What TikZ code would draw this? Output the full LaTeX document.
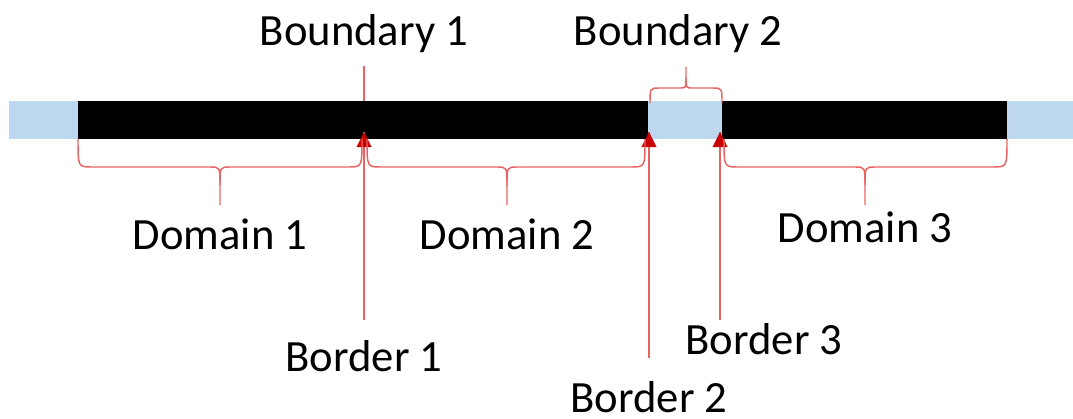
\documentclass[tikz,border=0pt]{standalone}
\usepackage{fontspec}
\setmainfont{Carlito}
\definecolor{lblue}{RGB}{189,215,238}
\definecolor{lred}{RGB}{232,100,100}
\definecolor{dred}{RGB}{200,0,0}
\begin{document}
\begin{tikzpicture}[x=0.75pt,y=-0.75pt,
  lbl/.style={font=\fontsize{33.5}{38}\selectfont, anchor=base, inner sep=0pt},
  redline/.style={draw=lred, line width=1.1pt},
  brace/.style={draw=lred, line width=1.1pt, line join=round},
  head/.style={fill=dred}]
\useasboundingbox (0,0) rectangle (1073,418);
% bar
\fill[lblue] (9,101) rectangle (1073,139);
\fill[black] (78,101) rectangle (648,139);
\fill[black] (722,101) rectangle (1007,139);
% labels
\node[lbl] (bd1) at (364,45) {Boundary 1};
\node[lbl] (bd2) at (678,45) {Boundary 2};
\node[lbl] (dm1) at (220,249) {Domain 1};
\node[lbl] (dm2) at (507,249) {Domain 2};
\node[lbl] (dm3) at (865,242) {Domain 3};
\node[lbl] (br1) at (364,371) {Border 1};
\node[lbl] (br2) at (649,412) {Border 2};
\node[lbl] (br3) at (764,354) {Border 3};
% points
\coordinate (p1) at (364,132);
\coordinate (p2) at (649,132);
\coordinate (p3) at (720,132);
\coordinate (e1) at (364,320);
\coordinate (e2) at (649,358);
\coordinate (e3) at (720,320);
\coordinate (bt) at (364,66);
\coordinate (bb) at (364,101);
% boundary 1 line
\draw[redline] (bt) -- (bb);
% border lines and arrowheads
\draw[redline] (e1) -- (p1);
\draw[redline] (e2) -- (p2);
\draw[redline] (e3) -- (p3);
\fill[head] (p1) -- ++(-7.5,15) -- ++(15,0) -- cycle;
\fill[head] (p2) -- ++(-7.5,15) -- ++(15,0) -- cycle;
\fill[head] (p3) -- ++(-7.5,15) -- ++(15,0) -- cycle;
% domain braces
\draw[brace] (78,139) .. controls (78,167) and (78,167) .. (92,167)
  -- (210,167) .. controls (220,167) and (220,167) .. (220,185) -- (220,205);
\draw[brace] (220,185) .. controls (220,167) and (220,167) .. (230,167)
  -- (348,167) .. controls (362,167) and (362,167) .. (362,139);
\draw[brace] (367,139) .. controls (367,167) and (367,167) .. (381,167)
  -- (497,167) .. controls (507,167) and (507,167) .. (507,185) -- (507,205);
\draw[brace] (507,185) .. controls (507,167) and (507,167) .. (517,167)
  -- (631,167) .. controls (645,167) and (645,167) .. (645,139);
\draw[brace] (724,139) .. controls (724,167) and (724,167) .. (738,167)
  -- (855,167) .. controls (865,167) and (865,167) .. (865,185) -- (865,205);
\draw[brace] (865,185) .. controls (865,167) and (865,167) .. (875,167)
  -- (993,167) .. controls (1007,167) and (1007,167) .. (1007,139);
% boundary 2 brace
\draw[brace] (650,103) .. controls (650,88) and (650,88) .. (660,88)
  -- (679,88) .. controls (686,88) and (686,88) .. (686,78) -- (686,67);
\draw[brace] (686,78) .. controls (686,88) and (686,88) .. (693,88)
  -- (712,88) .. controls (722,88) and (722,88) .. (722,103);
\end{tikzpicture}
\end{document}
